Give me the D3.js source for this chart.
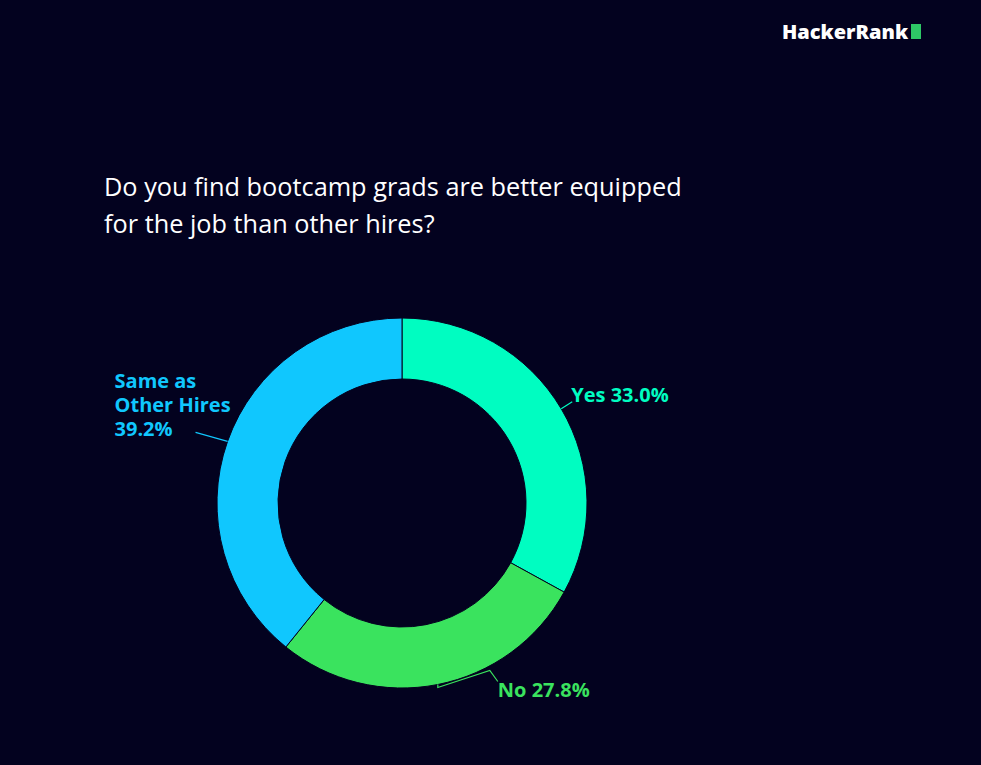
<!DOCTYPE html>
<html lang="en">
<head>
    <meta charset="UTF-8" />
    <script src="https://d3js.org/d3.v7.min.js"></script>
    <title>Bootcamp grads</title>
    <style>
        body { margin: 0; background: #03021f; }
        svg { display: block; }
        .title { fill: #ffffff; font-family: "Open Sans", sans-serif; font-size: 25.3px; }
        .label { font-family: "Open Sans", sans-serif; font-size: 20px; font-weight: bold; }
        .logo { fill: #ffffff; font-family: "Open Sans", sans-serif; font-size: 20px; font-weight: 800; }
    </style>
</head>
<body>
<svg id="chart" width="981" height="765"></svg>
<script>
    // data
    const categories = ["Yes", "No", "Same as Other Hires"];
    const values = [33.0, 27.8, 39.2];
    const colors = ["#00fdc1", "#3ae35e", "#10c7fe"];
    const labelLines = [["Yes 33.0%"], ["No 27.8%"], ["Same as", "Other Hires", "39.2%"]];

    const svg = d3.select("#chart");
    svg.append("rect").attr("width", 981).attr("height", 765).attr("fill", "#03021f");

    // logo
    svg.append("text").attr("class", "logo").attr("x", 782).attr("y", 39).text("HackerRank");
    svg.append("rect").attr("x", 911).attr("y", 24).attr("width", 10).attr("height", 15).attr("fill", "#2ec866");

    // title
    const title = svg.append("text").attr("class", "title").attr("x", 104);
    title.append("tspan").attr("x", 104).attr("y", 196).text("Do you find bootcamp grads are better equipped");
    title.append("tspan").attr("x", 104).attr("y", 233).text("for the job than other hires?");

    const cx = 402, cy = 503, outerR = 185, innerR = 124;
    const g = svg.append("g").attr("transform", `translate(${cx},${cy})`);

    const pie = d3.pie().sort(null).value(d => d)(values);
    const arc = d3.arc().innerRadius(innerR).outerRadius(outerR);

    g.selectAll("path.slice")
        .data(pie)
        .join("path")
        .attr("class", "slice")
        .attr("d", arc)
        .attr("fill", (d, i) => colors[i])
        .attr("stroke", "#03021f")
        .attr("stroke-width", 1);

    // leader lines start at the outer edge of each slice's middle angle
    function edgePoint(d) {
        const a = (d.startAngle + d.endAngle) / 2;
        return [outerR * Math.sin(a), -outerR * Math.cos(a)];
    }

    // relative leader bends and label anchors per slice
    const leaders = [
        { pts: [[11, -7]], text: [10, -7] },
        { pts: [[0, 3], [52, -14], [60, -3]], text: [60, 12] },
        { pts: [[-32, -9]], text: [-113, -53] }
    ];

    pie.forEach((d, i) => {
        const [x0, y0] = edgePoint(d);
        const pts = [[x0, y0]].concat(leaders[i].pts.map(p => [x0 + p[0], y0 + p[1]]));
        g.append("path")
            .attr("d", d3.line()(pts))
            .attr("fill", "none")
            .attr("stroke", colors[i])
            .attr("stroke-width", 1.2);

        const t = g.append("text")
            .attr("class", "label")
            .attr("fill", colors[i]);
        labelLines[i].forEach((s, j) => {
            t.append("tspan")
                .attr("x", x0 + leaders[i].text[0])
                .attr("y", y0 + leaders[i].text[1] + j * 24)
                .text(s);
        });
    });
</script>
</body>
</html>
